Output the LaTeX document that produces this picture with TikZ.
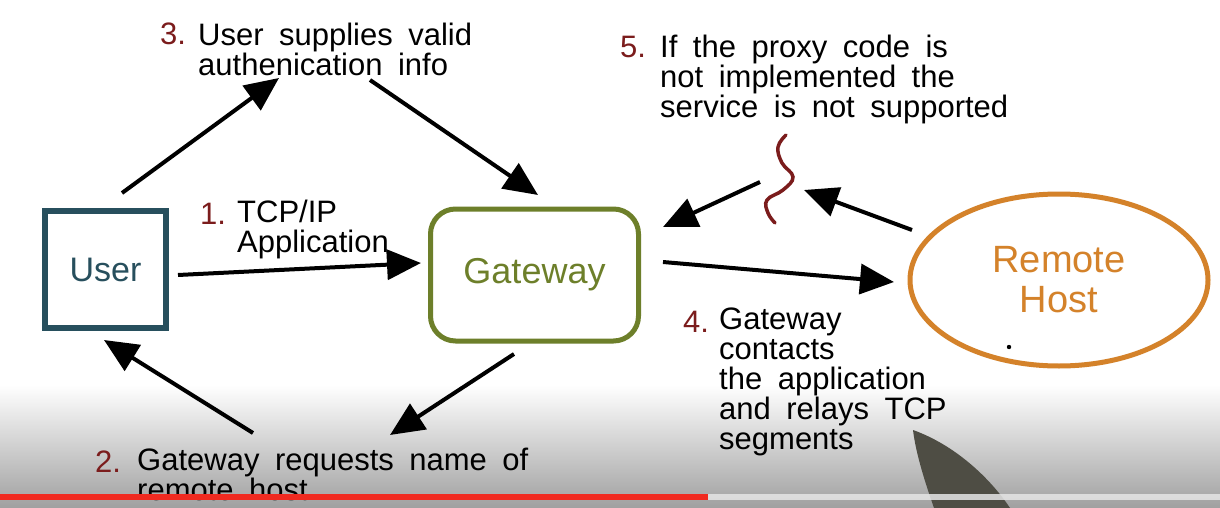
\documentclass[tikz,border=0pt]{standalone}
\usepackage{fontspec}
\setmainfont[WordSpace=1.8]{Liberation Sans}
\usetikzlibrary{arrows.meta,shapes.geometric}
\definecolor{userteal}{HTML}{274F5D}
\definecolor{gwolive}{HTML}{6D7F2A}
\definecolor{rhorange}{HTML}{D4822A}
\definecolor{numred}{HTML}{7B1C1C}
\definecolor{barred}{HTML}{F02A20}
\definecolor{pengray}{HTML}{4E4D44}
\definecolor{shadegray}{HTML}{A0A0A0}
\begin{document}
\begin{tikzpicture}[x=1pt,y=-1pt,
  lbl/.style={anchor=north west, align=left, inner sep=0pt, font=\fontsize{31}{30}\selectfont},
  num/.style={anchor=base west, inner sep=0pt, text=numred, font=\fontsize{31}{30}\selectfont},
  arr/.style={line width=4pt, -{Triangle[length=34pt,width=30pt]}},
]
\useasboundingbox (0,0) rectangle (1220,508);
\fill[white] (0,0) rectangle (1220,508);
\shade[top color=white, bottom color=shadegray] (0,385) rectangle (1220,508);

% main nodes
\node[draw=userteal, line width=6pt, minimum width=121pt, minimum height=117pt, inner sep=0pt,
      text=userteal, font=\fontsize{34}{34}\selectfont] (user) at (105.5,269.5) {User};
\node[draw=gwolive, line width=5pt, rounded corners=25pt, minimum width=208pt, minimum height=132pt, inner sep=0pt,
      text=gwolive, font=\fontsize{36}{36}\selectfont] (gw) at (534.5,275) {Gateway};
\node[ellipse, draw=rhorange, line width=5pt, minimum width=298pt, minimum height=172pt, inner sep=0pt,
      text=rhorange, align=center, font=\fontsize{38}{40}\selectfont] (rh) at (1059,280) {Remote\\Host};
\fill (1009,347) circle (2.2pt);

% labels
\node[num] (n3) at (160,45) {3.};
\node[lbl] (l3) at (198,23) {User supplies valid\\authenication info};
\node[num] (n1) at (200,224) {1.};
\node[lbl] (l1) at (237,200) {TCP/IP\\Application};
\node[num] (n5) at (620,58) {5.};
\node[lbl] (l5) at (660,35) {If the proxy code is\\not implemented the\\service is not supported};
\node[num] (n4) at (683,332) {4.};
\node[lbl] (l4) at (719,308) {Gateway\\contacts\\the application\\and relays TCP\\segments};
\node[num] (n2) at (95,472) {2.};
\node[lbl] (l2) at (137,448) {Gateway requests name of\\remote host};

% connector end points
\coordinate (a1s) at (178,275); \coordinate (a1e) at (421,263);
\coordinate (a2s) at (514,354); \coordinate (a2e) at (390,435);
\coordinate (a2bs) at (253,433); \coordinate (a2be) at (104,340);
\coordinate (a3s) at (122,193); \coordinate (a3e) at (279,78);
\coordinate (a3bs) at (370,80); \coordinate (a3be) at (538,195);
\coordinate (a4s) at (663,262); \coordinate (a4e) at (894,282);
\coordinate (a5s) at (760,182); \coordinate (a5e) at (663,227);
\coordinate (a5bs) at (912,230); \coordinate (a5be) at (804,190);

\draw[arr] (a1s) -- (a1e);
\draw[arr] (a2s) -- (a2e);
\draw[arr] (a2bs) -- (a2be);
\draw[arr] (a3s) -- (a3e);
\draw[arr] (a3bs) -- (a3be);
\draw[arr] (a4s) -- (a4e);
\draw[arr] (a5s) -- (a5e);
\draw[arr] (a5bs) -- (a5be);

% squiggle (blocked)
\draw[numred, line width=3.5pt, line cap=round] plot[smooth, tension=0.7] coordinates
  {(786,135) (778,147) (782,163) (793,177) (783,190) (767,200) (768,213) (775,223)};

% pen tip
\fill[pengray] (913,430) .. controls (916,455) and (926,485) .. (934,508)
  -- (1010,508) .. controls (990,478) and (955,445) .. (913,430) -- cycle;

% progress bar
\fill[barred] (0,494) rectangle (708,500);
\fill[gray!20, opacity=0.85] (708,494) rectangle (1220,500);
\end{tikzpicture}
\end{document}
